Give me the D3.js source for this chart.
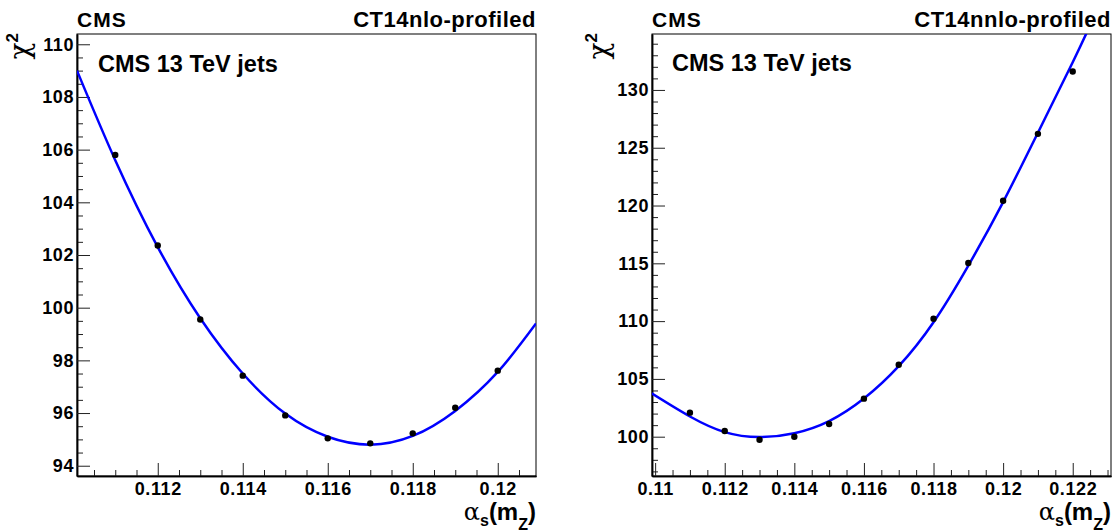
<!DOCTYPE html>
<html>
<head>
<meta charset="utf-8">
<script src="https://cdn.jsdelivr.net/npm/d3@7"></script>
<style>
  html, body { margin: 0; padding: 0; background: #fff; }
  svg { display: block; }
  text { font-family: "Liberation Sans", Arial, Helvetica, sans-serif; font-weight: bold; fill: #000; }
</style>
</head>
<body>
<svg id="chart" width="1113" height="532"></svg>
<script>
// ---------------- data ----------------
const alphaLeft = [0.111, 0.112, 0.113, 0.114, 0.115, 0.116, 0.117, 0.118, 0.119, 0.120];
const chi2Left  = [105.80, 102.36, 99.55, 97.42, 95.91, 95.04, 94.85, 95.23, 96.20, 97.61];
const fitAlphaLeft = [0.1101, 0.111, 0.112, 0.113, 0.114, 0.115, 0.116, 0.117, 0.118, 0.119, 0.120, 0.1209];
const fitChi2Left  = [109.0, 105.6, 102.3, 99.6, 97.5, 95.98, 95.1, 94.8, 95.13, 96.08, 97.56, 99.4];

const alphaRight = [0.111, 0.112, 0.113, 0.114, 0.115, 0.116, 0.117, 0.118, 0.119, 0.120, 0.121, 0.122];
const chi2Right  = [102.08, 100.49, 99.74, 100.0, 101.1, 103.29, 106.23, 110.2, 115.03, 120.41, 126.2, 131.6];
const fitAlphaRight = [0.1099, 0.111, 0.112, 0.113, 0.114, 0.115, 0.116, 0.117, 0.118, 0.119, 0.120, 0.121, 0.122, 0.1225];
const fitChi2Right  = [103.75, 101.75, 100.4, 99.97, 100.3, 101.35, 103.3, 106.1, 109.9, 114.8, 120.3, 126.3, 132.4, 135.6];

const xTickValsLeft = [0.112, 0.114, 0.116, 0.118, 0.120];
const xTickLabsLeft = ["0.112", "0.114", "0.116", "0.118", "0.12"];
const yTickValsLeft = [94, 96, 98, 100, 102, 104, 106, 108, 110];
const xTickValsRight = [0.110, 0.112, 0.114, 0.116, 0.118, 0.120, 0.122];
const xTickLabsRight = ["0.11", "0.112", "0.114", "0.116", "0.118", "0.12", "0.122"];
const yTickValsRight = [100, 105, 110, 115, 120, 125, 130];

const pdfLabels = ["CT14nlo-profiled", "CT14nnlo-profiled"];
const expLabel = "CMS 13 TeV jets";

// ---------------- layout ----------------
const svg = d3.select("#chart");
const plotTop = 34, plotBottom = 476;

const panels = [
  { left: 77, right: 536, xDom: [0.1101, 0.1209], yDom: [93.61, 110.39],
    alpha: alphaLeft, chi2: chi2Left, fa: fitAlphaLeft, fc: fitChi2Left,
    xt: xTickValsLeft, xl: xTickLabsLeft, yt: yTickValsLeft, yMinorStep: 0.5,
    pdf: pdfLabels[0], expX: 98, expY: 72, chiX: 29 },
  { left: 652, right: 1111, xDom: [0.10991, 0.1231], yDom: [96.6, 134.84],
    alpha: alphaRight, chi2: chi2Right, fa: fitAlphaRight, fc: fitChi2Right,
    xt: xTickValsRight, xl: xTickLabsRight, yt: yTickValsRight, yMinorStep: 1,
    pdf: pdfLabels[1], expX: 672, expY: 71, chiX: 608 }
];

panels.forEach((p, i) => {
  const x = d3.scaleLinear().domain(p.xDom).range([p.left, p.right]);
  const y = d3.scaleLinear().domain(p.yDom).range([plotBottom, plotTop]);
  const g = svg.append("g");

  const clipId = "clip" + i;
  svg.append("clipPath").attr("id", clipId).append("rect")
    .attr("x", p.left).attr("y", plotTop).attr("width", p.right - p.left).attr("height", plotBottom - plotTop);

  // frame
  g.append("rect").attr("x", p.left).attr("y", plotTop)
    .attr("width", p.right - p.left).attr("height", plotBottom - plotTop)
    .attr("fill", "none").attr("stroke", "#000").attr("stroke-width", 1);

  // minor ticks
  const xMinor = d3.range(Math.ceil(p.xDom[0] / 0.0005) * 0.0005, p.xDom[1], 0.0005)
    .filter(v => !p.xt.some(t => Math.abs(t - v) < 1e-7));
  const yMinor = d3.range(Math.ceil(p.yDom[0] / p.yMinorStep) * p.yMinorStep, p.yDom[1], p.yMinorStep)
    .filter(v => !p.yt.some(t => Math.abs(t - v) < 1e-7));

  const xAxisMinor = d3.axisBottom(x).tickValues(xMinor).tickSize(-6).tickSizeOuter(0).tickFormat("");
  const yAxisMinor = d3.axisLeft(y).tickValues(yMinor).tickSize(-6).tickSizeOuter(0).tickFormat("");
  const xAxis = d3.axisBottom(x).tickValues(p.xt).tickSize(-13).tickSizeOuter(0).tickPadding(6)
    .tickFormat((d, k) => p.xl[k]);
  const yAxis = d3.axisLeft(y).tickValues(p.yt).tickSize(-13).tickSizeOuter(0).tickPadding(3)
    .tickFormat(d3.format("d"));

  [[xAxisMinor, "x"], [xAxis, "x"], [yAxisMinor, "y"], [yAxis, "y"]].forEach(([ax, t]) => {
    const a = g.append("g")
      .attr("transform", t === "x" ? `translate(0,${plotBottom})` : `translate(${p.left},0)`)
      .call(ax);
    a.select(".domain").attr("stroke", "#000").attr("stroke-width", 1.5);
    a.selectAll(".tick line").attr("stroke", "#222").attr("stroke-width", 1);
    a.selectAll(".tick text").style("font-size", "18px").style("font-family", "Liberation Sans, Arial, sans-serif")
      .style("font-weight", "bold").style("letter-spacing", "0.6px").attr("fill", "#000");
    if (t === "x") a.selectAll(".tick text").attr("dy", "0.71em");
  });

  // fit curve
  const line = d3.line().x((d, k) => x(p.fa[k])).y(d => y(d)).curve(d3.curveNatural);
  g.append("path").datum(p.fc).attr("clip-path", `url(#${clipId})`)
    .attr("d", line).attr("fill", "none").attr("stroke", "#0000ff").attr("stroke-width", 2.5);

  // points
  g.selectAll("circle.pt").data(p.chi2).enter().append("circle")
    .attr("class", "pt")
    .attr("cx", (d, k) => x(p.alpha[k])).attr("cy", d => y(d))
    .attr("r", 3.2).attr("fill", "#000");

  // labels
  g.append("text").attr("x", p.left).attr("y", 27).style("font-size", "21px")
    .style("letter-spacing", "1px").text("CMS");
  g.append("text").attr("x", p.right).attr("y", 27).attr("text-anchor", "end")
    .style("font-size", "22px").style("letter-spacing", "0.5px").text(p.pdf);
  g.append("text").attr("x", p.expX).attr("y", p.expY).style("font-size", "23.5px").text(expLabel);

  // x title
  const xt = g.append("text").attr("x", p.right).attr("y", 520).attr("text-anchor", "end")
    .style("font-size", "24px");
  xt.append("tspan").style("font-weight", "normal").style("font-family", "DejaVu Serif, Liberation Serif, serif").text("α");
  xt.append("tspan").attr("dy", 6).style("font-size", "16px").text("s");
  xt.append("tspan").attr("dy", -6).text("(m");
  xt.append("tspan").attr("dy", 10).style("font-size", "16px").text("Z");
  xt.append("tspan").attr("dy", -10).text(")");

  // y title
  const yt = g.append("text").attr("transform", `translate(${p.chiX},33) rotate(-90)`)
    .attr("text-anchor", "end").style("font-size", "28px");
  yt.append("tspan").style("font-weight", "normal").style("font-family", "DejaVu Serif, Liberation Serif, serif").text("χ");
  yt.append("tspan").attr("dy", -11).style("font-size", "17px").text("2");
});
</script>
</body>
</html>
